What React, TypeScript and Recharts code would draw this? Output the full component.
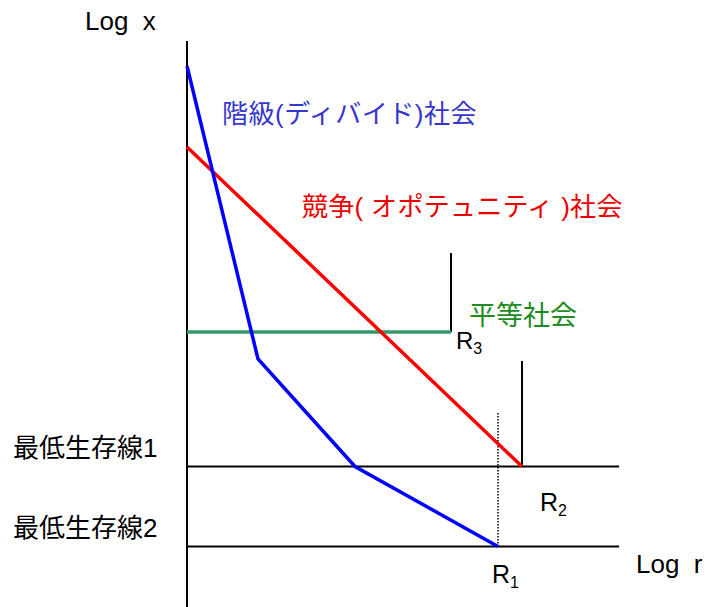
import React from 'react';
import { ComposedChart, Line, XAxis, YAxis, ReferenceDot } from 'recharts';

// Arbitrary diagram units (log r horizontally, log x vertically)
const dividedX = [0, 7.1, 16.8, 31.1];
const dividedY = [54.1, 24.8, 14.05, 6.05];
const opportunityX = [0, 33.5];
const opportunityY = [46.0, 14.05];
const equalX = [0, 26.4];
const equalY = [27.5, 27.5];
const levelNames = ['最低生存線1', '最低生存線2'];
const levelY = [14.05, 6.05];
const levelEndX = 43.2;
const axisTopY = 56.6;
const r3Cap = { x: 26.4, y: [27.5, 35.4] };
const r2Cap = { x: 33.5, y: [14.05, 24.6] };
const r1Drop = { x: 31.1, y: [6.05, 19.5] };
const seriesNames = ['階級(ディバイド)社会', '競争( オポテュニティ )社会', '平等社会'];

const toPts = (xs: number[], ys: number[]) => xs.map((x, i) => ({ x, y: ys[i] }));
const vert = (x: number, ys: number[]) => ys.map((y) => ({ x, y }));

const FONT = "'Liberation Sans', Arial, 'Noto Sans CJK JP', sans-serif";

const textShape = (content: React.ReactNode, color: string, size: number, ls = 0) => (p: any) => (
  <text x={p.cx} y={p.cy} fill={color} fontSize={size} fontFamily={FONT} letterSpacing={ls} style={{ whiteSpace: 'pre' }}>
    {content}
  </text>
);

const common = { dataKey: 'y', dot: false, activeDot: false, isAnimationActive: false } as const;

export default function App() {
  return (
    <div style={{ position: 'absolute', left: 0, top: 0, width: 714, height: 607, background: '#fff' }}>
      <ComposedChart width={714} height={607} margin={{ top: 0, right: 0, bottom: 0, left: 0 }}>
        <XAxis type="number" dataKey="x" domain={[-18.7, 52.7]} hide allowDataOverflow />
        <YAxis type="number" dataKey="y" domain={[0, 60.7]} hide allowDataOverflow />
        {/* vertical axis */}
        <Line {...common} data={vert(0, [0, axisTopY])} stroke="#000" strokeWidth={2} />
        {/* subsistence lines */}
        {levelY.map((y, i) => (
          <Line key={i} {...common} data={toPts([0, levelEndX], [y, y])} stroke="#000" strokeWidth={2} />
        ))}
        <Line {...common} data={vert(r3Cap.x, r3Cap.y)} stroke="#000" strokeWidth={2} />
        <Line {...common} data={vert(r2Cap.x, r2Cap.y)} stroke="#000" strokeWidth={2} />
        <Line {...common} data={vert(r1Drop.x, r1Drop.y)} stroke="#000" strokeWidth={1.5} strokeDasharray="1.5 1.5" />
        <Line {...common} data={toPts(equalX, equalY)} stroke="#339966" strokeWidth={3.5} />
        <Line {...common} data={toPts(opportunityX, opportunityY)} stroke="#ff0000" strokeWidth={3.5} />
        <Line {...common} data={toPts(dividedX, dividedY)} stroke="#0000ff" strokeWidth={3.5} />

        <ReferenceDot x={-10.2} y={57.7} r={0} ifOverflow="visible" shape={textShape('Log  x', '#000', 26)} />
        <ReferenceDot x={44.9} y={3.4} r={0} ifOverflow="visible" shape={textShape('Log  r', '#000', 26)} />
        <ReferenceDot x={-17.4} y={15.0} r={0} ifOverflow="visible" shape={textShape(levelNames[0], '#000', 26)} />
        <ReferenceDot x={-17.4} y={7.0} r={0} ifOverflow="visible" shape={textShape(levelNames[1], '#000', 26)} />
        <ReferenceDot x={3.5} y={48.4} r={0} ifOverflow="visible" shape={textShape(seriesNames[0], '#3636cc', 26, 0.5)} />
        <ReferenceDot x={11.5} y={39.1} r={0} ifOverflow="visible" shape={textShape(seriesNames[1], '#ee0000', 26, 0.3)} />
        <ReferenceDot x={28.2} y={28.2} r={0} ifOverflow="visible" shape={textShape(seriesNames[2], '#1e8c1e', 27)} />
        <ReferenceDot x={26.9} y={25.8} r={0} ifOverflow="visible" shape={textShape(<>R<tspan fontSize={16} dy={5}>3</tspan></>, '#000', 24)} />
        <ReferenceDot x={35.3} y={9.6} r={0} ifOverflow="visible" shape={textShape(<>R<tspan fontSize={16} dy={5}>2</tspan></>, '#000', 25)} />
        <ReferenceDot x={30.5} y={2.4} r={0} ifOverflow="visible" shape={textShape(<>R<tspan fontSize={16} dy={5}>1</tspan></>, '#000', 25)} />
      </ComposedChart>
    </div>
  );
}
